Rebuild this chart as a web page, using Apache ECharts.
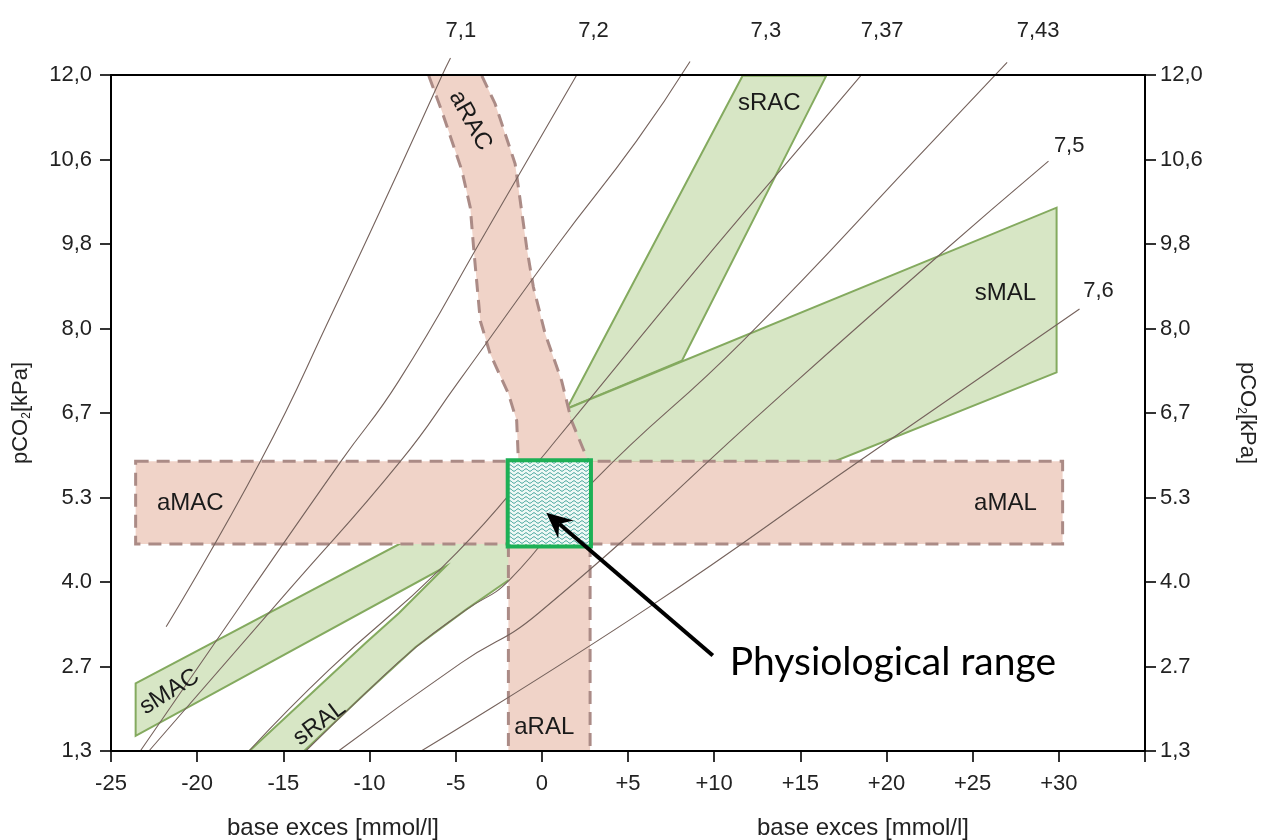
<!DOCTYPE html>
<html><head><meta charset="utf-8">
<script src="https://cdn.jsdelivr.net/npm/echarts@6/dist/echarts.min.js"></script>
<style>html,body{margin:0;padding:0;background:#fff}#c{width:1261px;height:840px}</style>
</head><body><div id="c"></div>
<script>
// ---- axes ----
const xTicks = [-25,-20,-15,-10,-5,0,5,10,15,20,25,30,35];
const xTickLabels = ['-25','-20','-15','-10','-5','0','+5','+10','+15','+20','+25','+30',''];
const yTicks = [10,20,30,40,50,60,70,80,90];            // pCO2 positions (mmHg scale)
const yTickLabels = ['1,3','2.7','4.0','5.3','6,7','8,0','9,8','10,6','12,0'];

// ---- pH isopleths [base excess, pCO2] ----
const isoNames = ['7,1','7,2','7,3','7,37','7,43','7,5','7,6'];
const iso71  = [[-21.8,24.7],[-16.3,44.4],[-12.1,62.1],[-8.3,78.7],[-5.8,89.9],[-5.3,92.0]];
const iso72  = [[-23.3,10],[-17.15,28.2],[-11.65,44.3],[-8.3,53.8],[-3.2,71.6],[2.0,89.9]];
const iso73  = [[-22.8,10],[-14.7,29.0],[-8.2,44.3],[-4.8,53.8],[0.95,70.0],[5.5,82.2],[8.6,91.6]];
const iso737 = [[-17.0,10],[-12.35,19.6],[-5.8,31.7],[-0.8,42.85],[0.95,47.1],[9.05,67.2],[15.3,82.2],[18.5,89.9]];
const iso743 = [[-13.7,10],[-10.2,16.9],[-7.3,22.3],[-4.4,26.7],[-1.9,30.2],[2.9,41.7],[11.7,58.6],[22.7,82.2],[27.0,91.5]];
const iso75  = [[-11.8,10],[-4.7,20.4],[-0.2,26.3],[13.7,51.8],[22.9,68.4],[29.4,79.8]];
const iso76  = [[-7.0,10],[6.2,27.0],[18.3,44.15],[31.2,62.3]];
const isoLabelPos = [[-4.7,95.2],[3.0,95.2],[13.0,95.2],[19.75,95.2],[28.8,95.2],[30.6,81.6],[32.3,64.4]];

// ---- regions ----
const sRAC = [[1.45,50.5],[11.65,89.9],[16.5,89.9],[8.13,56.2]];
const sMAL = [[1.45,50.5],[29.87,74.3],[29.87,54.8],[16.9,44.2],[2.4,44.2]];
const sMAC_sRAL = [[-23.57,18.0],[-5.66,37.3],[-0.78,37.3],[-0.78,31.9],[-1.94,30.2],[-4.42,26.7],[-7.32,22.3],
  [-10.21,16.9],[-13.79,10],[-16.97,10],[-13.33,16.9],[-10.21,22.8],[-8.30,26.3],[-5.60,31.8],[-23.57,11.8]];
const aMetBand = [[-23.57,44.3],[30.22,44.3],[30.22,34.5],[-23.57,34.5]];
const aRAL = [[-1.94,40],[2.8,40],[2.8,10],[-1.94,10]];
const aRACleft  = [[-6.56,89.9],[-5.80,85.7],[-4.64,78.7],[-4.15,74.3],[-3.96,69.6],[-3.57,60.9],[-3.00,57.0],[-1.94,52.3],[-1.46,49.1],[-1.36,44.3]];
const aRACright = [[-3.48,89.9],[-2.71,86.6],[-1.55,79.5],[-1.36,76.7],[-0.88,69.6],[-0.49,64.9],[0.19,59.4],[1.15,53.8],[1.72,49.1],[2.69,44.3]];
const aRALleft  = [[-1.94,34.5],[-1.94,10]];
const aRALright = [[2.8,34.5],[2.8,10]];
const physBox = [[-1.98,44.4],[2.85,44.4],[2.85,34.2],[-1.98,34.2]];
const arrowTail = [9.92,21.3];
const arrowHead = [0.26,38.2];

// ---- labels ----
const regionLabels = [
  {t:'aMAC', p:[-20.4,39.3], r:0},
  {t:'aMAL', p:[26.9,39.3], r:0},
  {t:'sMAL', p:[26.9,64.2], r:0},
  {t:'sRAC', p:[13.2,86.6], r:0},
  {t:'aRAC', p:[-4.15,84.6], r:-61},
  {t:'sMAC', p:[-21.6,17.0], r:32},
  {t:'sRAL', p:[-12.9,13.3], r:37},
  {t:'aRAL', p:[0.14,12.8], r:0}
];
const physText = 'Physiological range';
const physTextPos = [10.9,20.5];

const FONT = '"Liberation Sans", Arial, sans-serif';
const PINK = '#f0d3c8', PINK_EDGE = '#ab8b86', GREEN = '#d7e6c5', GREEN_EDGE = '#84aa5f', ISO = '#75625c';

// hatch pattern for physiological range
const pc = document.createElement('canvas'); pc.width = 8; pc.height = 4;
const g = pc.getContext('2d'); g.fillStyle = '#eef8f5'; g.fillRect(0,0,8,4);
g.strokeStyle = '#2f9a90'; g.lineWidth = 1; g.beginPath();
for (let i = 0; i <= 16; i++) { const x = i/2, y = 2 + 1.2*Math.sin(x/8*2*Math.PI); i ? g.lineTo(x,y) : g.moveTo(x,y); }
g.stroke();

function poly(pts, style, z) {
  return { type:'custom', z:z, silent:true, data:[[0,0]], clip:false,
    renderItem:(params, api) => ({ type:'polygon', shape:{ points: pts.map(p => api.coord(p)) }, style: style }) };
}
function pline(pts, style, z) {
  return { type:'custom', z:z, silent:true, data:[[0,0]], clip:false,
    renderItem:(params, api) => ({ type:'polyline', shape:{ points: pts.map(p => api.coord(p)) }, style: Object.assign({fill:null}, style) }) };
}
const dashStyle = { stroke: PINK_EDGE, lineWidth: 3, lineDash: [13, 8] };

const isoData = [iso71, iso72, iso73, iso737, iso743, iso75, iso76];
const series = [];
series.push(poly(sMAC_sRAL, {fill:GREEN, stroke:GREEN_EDGE, lineWidth:2}, 2));
series.push(poly(sRAC, {fill:GREEN, stroke:GREEN_EDGE, lineWidth:2}, 2));
series.push(poly(sMAL, {fill:GREEN, stroke:GREEN_EDGE, lineWidth:2}, 2));
series.push(poly(aMetBand, {fill:PINK}, 3));
series.push(poly(aRAL, {fill:PINK}, 3));
series.push(poly(aRACleft.concat([[-1.36,42],[2.92,42]]).concat(aRACright.slice().reverse()), {fill:PINK}, 3));
series.push(poly(aMetBand, Object.assign({fill:null}, dashStyle), 4));
series.push(pline(aRACleft, dashStyle, 4));
series.push(pline(aRACright, dashStyle, 4));
series.push(pline(aRALleft, dashStyle, 4));
series.push(pline(aRALright, dashStyle, 4));
isoData.forEach((d, i) => series.push({
  type:'line', name:isoNames[i], data:d, z:5, clip:false, showSymbol:false, smooth:0.5, silent:true,
  lineStyle:{color:ISO, width:1.1}
}));
series.push(poly(physBox, {fill:{image:pc, repeat:'repeat'}, stroke:'#1cb055', lineWidth:4}, 6));
series.push({ type:'custom', z:7, silent:true, data:[[0,0]], clip:false,
  renderItem:(params, api) => {
    const a = api.coord(arrowTail), b = api.coord(arrowHead);
    const ang = Math.atan2(b[1]-a[1], b[0]-a[0]);
    const L = 26, W = 12;
    const back = [b[0]-L*Math.cos(ang), b[1]-L*Math.sin(ang)];
    const notch = [b[0]-L*0.65*Math.cos(ang), b[1]-L*0.65*Math.sin(ang)];
    const p1 = [back[0]-W*Math.sin(ang), back[1]+W*Math.cos(ang)];
    const p2 = [back[0]+W*Math.sin(ang), back[1]-W*Math.cos(ang)];
    return { type:'group', children:[
      { type:'line', shape:{x1:a[0], y1:a[1], x2:notch[0], y2:notch[1]}, style:{stroke:'#000', lineWidth:4} },
      { type:'polygon', shape:{points:[b, p1, notch, p2]}, style:{fill:'#000'} }
    ]};
  }});
series.push({ type:'custom', z:8, silent:true, data:[[0,0]], clip:false,
  renderItem:(params, api) => {
    const kids = [];
    regionLabels.forEach(l => {
      const c = api.coord(l.p);
      kids.push({ type:'text', x:c[0], y:c[1], rotation: l.r*Math.PI/180,
        style:{ text:l.t, fontSize:24, fontFamily:FONT, fill:'#1a1a1a', align:'center', verticalAlign:'middle' } });
    });
    isoNames.forEach((n, i) => {
      const c = api.coord(isoLabelPos[i]);
      kids.push({ type:'text', x:c[0], y:c[1],
        style:{ text:n, fontSize:22, fontFamily:FONT, fill:'#222', align:'center', verticalAlign:'middle' } });
    });
    const t = api.coord(physTextPos);
    kids.push({ type:'text', x:t[0], y:t[1],
      style:{ text:physText, fontSize:39, fontFamily:'Lato, "Open Sans", sans-serif', fill:'#000', align:'left', verticalAlign:'middle' } });
    return { type:'group', children:kids };
  }});

const yLabelFmt = v => { const i = yTicks.indexOf(v); return i >= 0 ? yTickLabels[i] : ''; };
const xLabelFmt = v => { const i = xTicks.indexOf(v); return i >= 0 ? xTickLabels[i] : ''; };
const axisLineStyle = { show:true, onZero:false, lineStyle:{ color:'#000', width:2 } };
const nameRich = { s:{ fontSize:12, fontFamily:FONT, color:'#222', padding:[12,0,0,0] } };
const tickStyle = { show:true, inside:false, length:11, lineStyle:{color:'#000', width:1.6} };

const chart = echarts.init(document.getElementById('c'));
chart.setOption({
  animation:false,
  grid:{ left:111, right:116, top:75, bottom:89, containLabel:false, outerBoundsMode:'none' },
  xAxis:[
    { type:'value', position:'bottom', min:-25, max:35, interval:5, z:20,
      axisLine:axisLineStyle, splitLine:{show:false}, axisTick:tickStyle,
      axisLabel:{ formatter:xLabelFmt, fontSize:22, color:'#222', fontFamily:FONT, margin:22, showMinLabel:true, showMaxLabel:true } },
    { type:'value', position:'top', min:-25, max:35, interval:5, z:20,
      axisLine:axisLineStyle, splitLine:{show:false}, axisTick:{show:false}, axisLabel:{show:false} }
  ],
  yAxis:[
    { type:'value', position:'left', min:10, max:90, interval:10, z:20,
      axisLine:axisLineStyle, splitLine:{show:false}, axisTick:tickStyle,
      axisLabel:{ formatter:yLabelFmt, fontSize:22, color:'#222', fontFamily:FONT, margin:19 },
      name:'pCO{s|2}[kPa]', nameLocation:'middle', nameGap:78, nameRotate:90,
      nameTextStyle:{ fontSize:22, color:'#222', fontFamily:FONT, rich:nameRich } },
    { type:'value', position:'right', min:10, max:90, interval:10, z:20,
      axisLine:axisLineStyle, splitLine:{show:false}, axisTick:tickStyle,
      axisLabel:{ formatter:yLabelFmt, fontSize:22, color:'#222', fontFamily:FONT, margin:15 },
      name:'pCO{s|2}[kPa]', nameLocation:'middle', nameGap:90, nameRotate:-90,
      nameTextStyle:{ fontSize:22, color:'#222', fontFamily:FONT, rich:nameRich } }
  ],
  graphic:[
    { type:'text', x:333, y:828, style:{ text:'base exces [mmol/l]', fontSize:24, fontFamily:FONT, fill:'#222', align:'center', verticalAlign:'middle' } },
    { type:'text', x:863, y:828, style:{ text:'base exces [mmol/l]', fontSize:24, fontFamily:FONT, fill:'#222', align:'center', verticalAlign:'middle' } }
  ],
  series:series
});
</script>
</body></html>
